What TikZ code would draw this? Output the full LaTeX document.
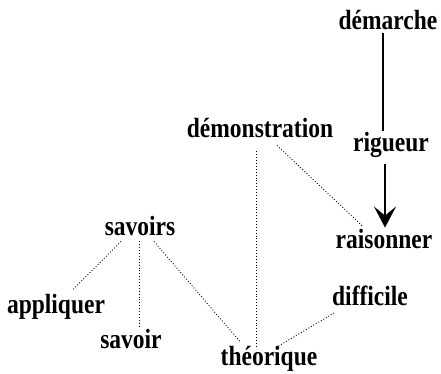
\documentclass[tikz,border=0pt]{standalone}
\usepackage{graphicx}
\usepackage{fontspec}
\setmainfont{Liberation Serif}
\usetikzlibrary{arrows.meta}
\newcommand{\tallword}[1]{\scalebox{1}[1.18]{#1}}
\begin{document}
\begin{tikzpicture}[x=1pt,y=-1pt,
  word/.style={inner sep=0pt,anchor=base,font=\fontsize{23.5}{25}\selectfont\bfseries},
  dotline/.style={dotted,line width=0.9pt,black},
  thick line/.style={line width=2.8pt}]
\useasboundingbox (0,0) rectangle (441,374);
\node[word] (demarche) at (388,30) {\tallword{démarche}};
\node[word] (rigueur) at (391,152) {\tallword{rigueur}};
\node[word] (raisonner) at (384,248) {\tallword{raisonner}};
\node[word] (demo) at (260,138) {\tallword{démonstration}};
\node[word] (savoirs) at (140,235) {\tallword{savoirs}};
\node[word] (appliquer) at (56,313) {\tallword{appliquer}};
\node[word] (savoir) at (131,348) {\tallword{savoir}};
\node[word] (theo) at (269,365) {\tallword{théorique}};
\node[word] (diff) at (370,305) {\tallword{difficile}};
% solid connectors
\draw[thick line] ([xshift=-5pt,yshift=-3pt]demarche.south) -- ([xshift=-8pt,yshift=2pt]rigueur.north);
\draw[thick line,-{Stealth[length=21pt,width=22pt,inset=9pt]}] ([xshift=-6pt,yshift=-6pt]rigueur.south) -- ([xshift=1pt,yshift=1pt]raisonner.north);
% dotted connectors
\draw[dotline] ([xshift=17pt,yshift=-7pt]demo.south) -- ([xshift=-21pt,yshift=2pt]raisonner.north);
\draw[dotline] ([xshift=-4pt,yshift=-13pt]demo.south) -- ([xshift=-13pt,yshift=-1pt]theo.north);
\draw[dotline] ([xshift=-19pt,yshift=-6pt]savoirs.south) -- ([xshift=16pt,yshift=3pt]appliquer.north);
\draw[dotline] ([xshift=-1pt,yshift=-6pt]savoirs.south) -- ([xshift=8pt,yshift=1pt]savoir.north);
\draw[dotline] ([xshift=14pt,yshift=-6pt]savoirs.south) -- ([xshift=-29pt,yshift=4pt]theo.north);
\draw[dotline] ([xshift=7pt,yshift=-2pt]theo.north) -- ([xshift=-35pt,yshift=-7pt]diff.south);
\end{tikzpicture}
\end{document}
